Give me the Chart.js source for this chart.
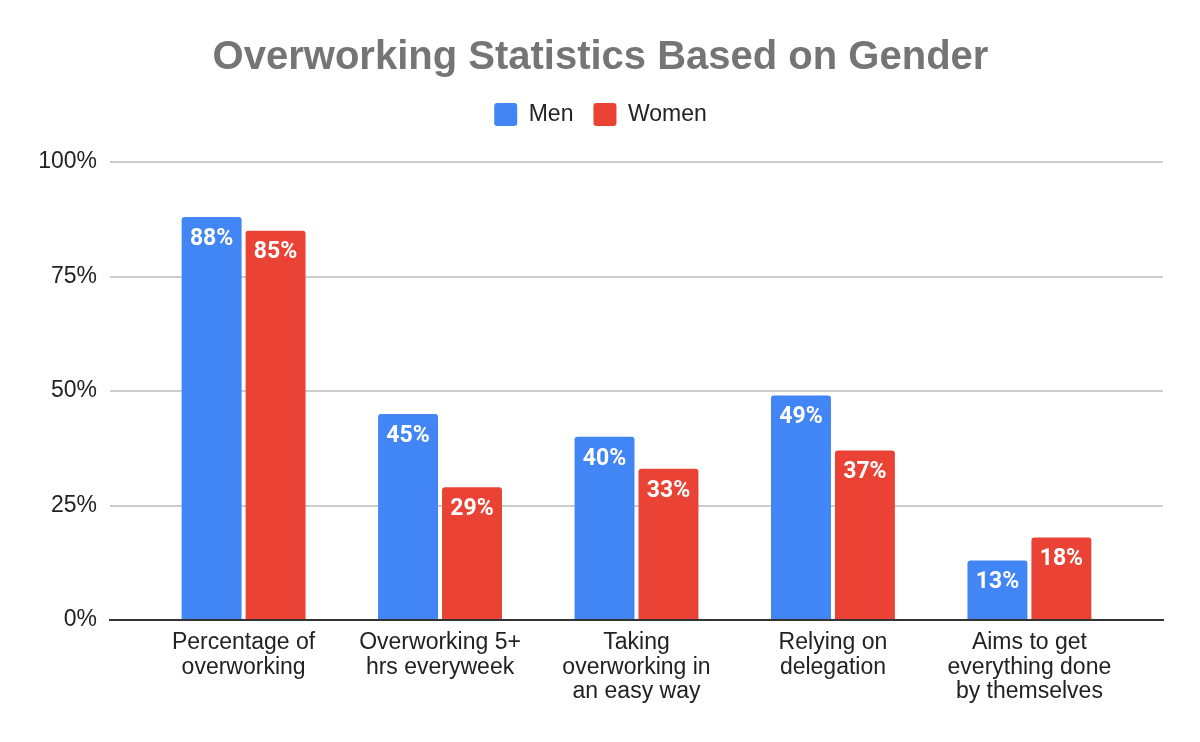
<!DOCTYPE html>
<html>
<head>
<meta charset="utf-8">
<script src="https://cdn.jsdelivr.net/npm/chart.js@4.4.1/dist/chart.umd.min.js"></script>
<style>
  body { margin: 0; background: #fff; }
  #wrap { width: 1200px; height: 742px; }
</style>
</head>
<body>
<div id="wrap"><canvas id="chart" width="1200" height="742"></canvas></div>
<script>
const categories = [
  ['Percentage of', 'overworking'],
  ['Overworking 5+', 'hrs everyweek'],
  ['Taking', 'overworking in', 'an easy way'],
  ['Relying on', 'delegation'],
  ['Aims to get', 'everything done', 'by themselves']
];
const menValues = [88, 45, 40, 49, 13];
const womenValues = [85, 29, 33, 37, 18];
const yTicks = [0, 25, 50, 75, 100];

const axisFont = { family: "'Liberation Sans', Arial, sans-serif", size: 23, lineHeight: 1.05 };
const catFont = { family: "'Liberation Sans', Arial, sans-serif", size: 23, lineHeight: 1.08 };

// push the plot down a bit below the legend
const legendSpacer = {
  id: 'legendSpacer',
  beforeInit(chart) {
    const fit = chart.legend.fit;
    chart.legend.fit = function () {
      fit.bind(chart.legend)();
      this.height += 26;
    };
  }
};

// white value labels inside the top of each bar
const barLabels = {
  id: 'barLabels',
  afterDatasetsDraw(chart) {
    const ctx = chart.ctx;
    ctx.save();
    ctx.fillStyle = '#ffffff';
    ctx.font = 'bold 23px Roboto, sans-serif';
    ctx.textAlign = 'center';
    ctx.textBaseline = 'middle';
    chart.data.datasets.forEach((ds, i) => {
      chart.getDatasetMeta(i).data.forEach((bar, j) => {
        ctx.fillText(Math.round(ds.data[j].y) + '%', bar.x, bar.y + 22);
      });
    });
    ctx.restore();
  }
};

new Chart(document.getElementById('chart'), {
  type: 'bar',
  data: {
    datasets: [
      {
        label: 'Men',
        data: menValues.map((v, i) => ({ x: i, y: v })),
        backgroundColor: '#4285F4',
        borderRadius: { topLeft: 3, topRight: 3 },
        borderSkipped: 'start'
      },
      {
        label: 'Women',
        data: womenValues.map((v, i) => ({ x: i, y: v })),
        backgroundColor: '#EA4335',
        borderRadius: { topLeft: 3, topRight: 3 },
        borderSkipped: 'start'
      }
    ]
  },
  options: {
    responsive: false,
    animation: false,
    categoryPercentage: 0.651,
    barPercentage: 0.9375,
    layout: { padding: { left: 38, right: 37, top: 0, bottom: 0 } },
    plugins: {
      title: {
        display: true,
        text: 'Overworking Statistics Based on Gender',
        color: '#757575',
        font: { family: "'Liberation Sans', Arial, sans-serif", size: 40, weight: 'bold' },
        padding: { top: 34, bottom: 1 }
      },
      legend: {
        labels: {
          color: '#222',
          font: axisFont,
          boxWidth: 23,
          boxHeight: 23,
          padding: 20,
          useBorderRadius: true,
          borderRadius: 3
        }
      },
      tooltip: { enabled: false }
    },
    scales: {
      x: {
        type: 'linear',
        min: -0.68,
        max: 4.68,
        offset: false,
        afterBuildTicks: s => { s.ticks = categories.map((c, i) => ({ value: i })); },
        afterFit: s => { s.height = 122; },
        grid: { display: false, drawTicks: false },
        border: { color: '#333', width: 2 },
        ticks: {
          color: '#222',
          font: catFont,
          padding: 10,
          maxRotation: 0,
          autoSkip: false,
          callback: v => categories[v]
        }
      },
      y: {
        min: 0,
        max: 100,
        afterBuildTicks: s => { s.ticks = yTicks.map(v => ({ value: v })); },
        afterFit: s => { s.width = 72; },
        grid: { color: '#cccccc', lineWidth: 2, drawTicks: false },
        border: { display: false },
        ticks: {
          color: '#222',
          font: axisFont,
          padding: 13,
          callback: v => v + '%'
        }
      }
    }
  },
  plugins: [legendSpacer, barLabels]
});
</script>
</body>
</html>
